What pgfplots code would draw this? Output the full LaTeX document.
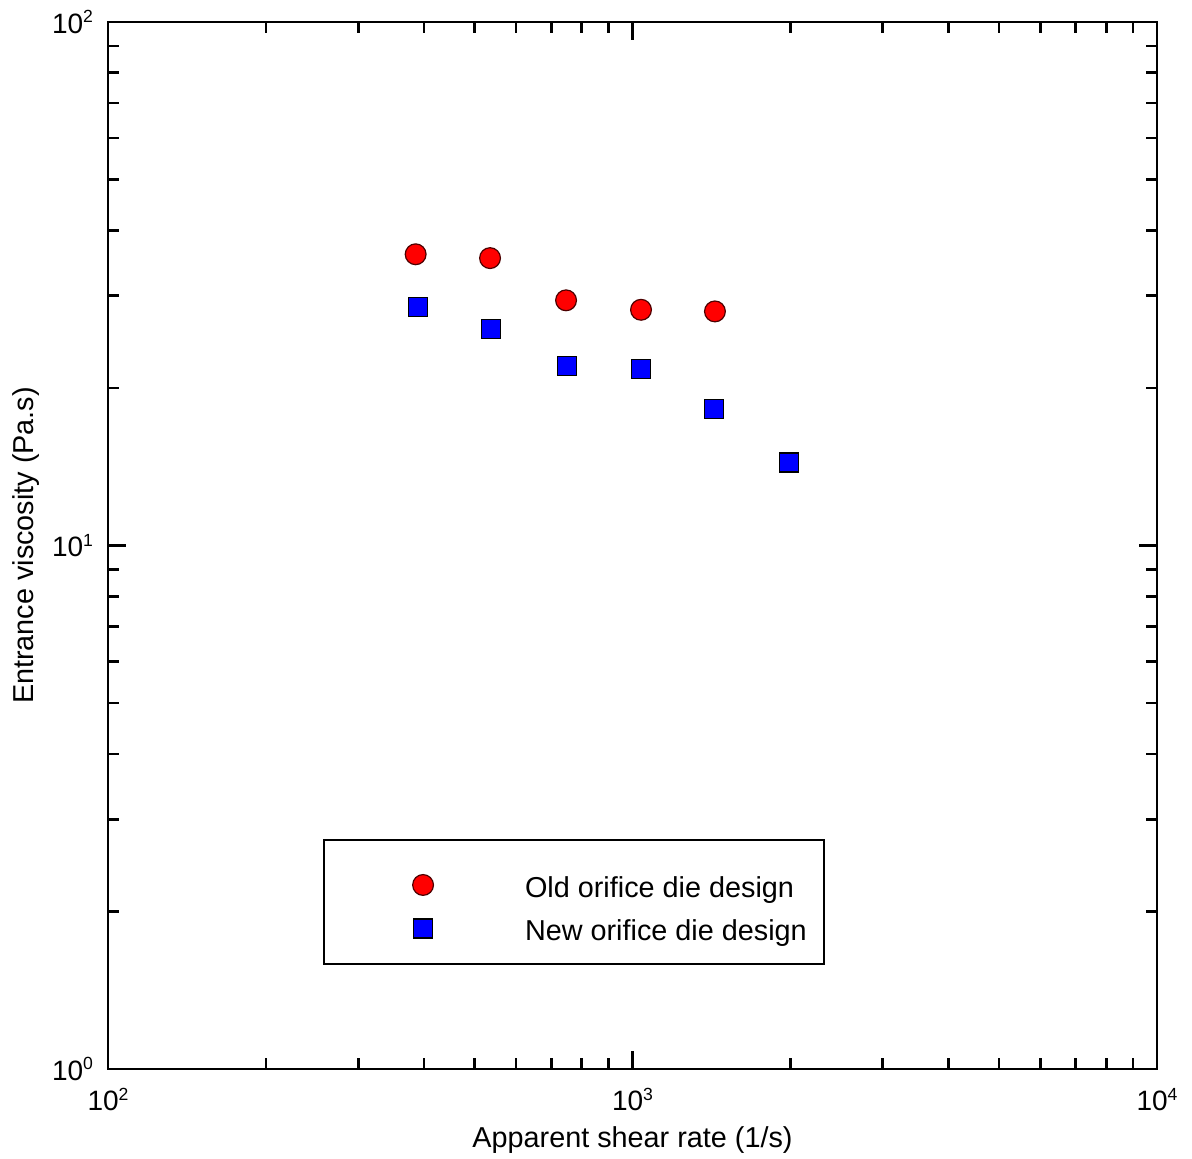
\documentclass[border=0pt]{standalone}
\usepackage{fontspec}
\setmainfont{Liberation Sans}
\usepackage{pgfplots}
\pgfplotsset{compat=1.18}
\definecolor{mred}{RGB}{255,0,0}
\definecolor{mblue}{RGB}{0,0,255}
\newcommand\ex[1]{10\raisebox{5.3pt}{\fontsize{8.8}{9}\selectfont #1}}
\pgfplotsset{legend image code/.code={\path (-40.5pt,-7pt) (39pt,12pt); \draw[#1] plot coordinates {(0pt,0pt)};}}
\begin{document}
\begin{tikzpicture}
\useasboundingbox (-54pt,-45pt) rectangle (542pt,534.5pt);
\begin{axis}[
  scale only axis=true,
  width=524.5pt, height=523.5pt,
  xmode=log, ymode=log,
  xmin=100, xmax=10000, ymin=1, ymax=100,
  axis line style={line width=1.3pt},
  every tick/.style={line width=1.3pt, black},
  major tick length=9pt, minor tick length=5.5pt,
  xtick={100,1000,10000},
  xticklabels={\ex{2},\ex{3},\ex{4}},
  ytick={1,10,100},
  yticklabels={\ex{0},\ex{1},\ex{2}},
  tick label style={font=\fontsize{14}{16}\selectfont},
  xticklabel style={yshift=-6pt},
  yticklabel style={xshift=-4pt},
  label style={font=\fontsize{14.4}{17}\selectfont},
  xlabel={Apparent shear rate (1/s)},
  ylabel={Entrance viscosity (Pa.s)},
  xlabel style={at={(axis description cs:0.5,0)}, anchor=north, yshift=-28.5pt, inner sep=0pt},
  ylabel style={at={(axis description cs:-0.065,0.5)}, anchor=south, inner sep=0pt},
  legend style={at={(axis description cs:0.205,0.2197)}, anchor=north west,
    draw=black, line width=1pt, inner xsep=8.5pt, inner ysep=10pt,
    font=\fontsize{14.4}{17}\selectfont,
    nodes={inner sep=0pt, anchor=west},
    /tikz/every even column/.style={text height=14pt, text depth=2pt},
    /tikz/column sep=11.5pt, /tikz/row sep=1.5pt},
  legend cell align=left,
]
\addplot[only marks, mark=*, mark size=5.2pt, mark options={fill=mred, draw=black!70!red, line width=0.6pt}]
  coordinates {(386,36.0) (535,35.4) (747,29.4) (1038,28.2) (1436,28.0)};
\addlegendentry{Old orifice die design}
\addplot[only marks, mark=square*, mark size=4.75pt, mark options={fill=mblue, draw=black, line width=0.6pt}]
  coordinates {(390,28.5) (537,25.9) (750,22.0) (1038,21.7) (1430,18.2) (1988,14.4)};
\addlegendentry{New orifice die design}
\end{axis}
\end{tikzpicture}
\end{document}
